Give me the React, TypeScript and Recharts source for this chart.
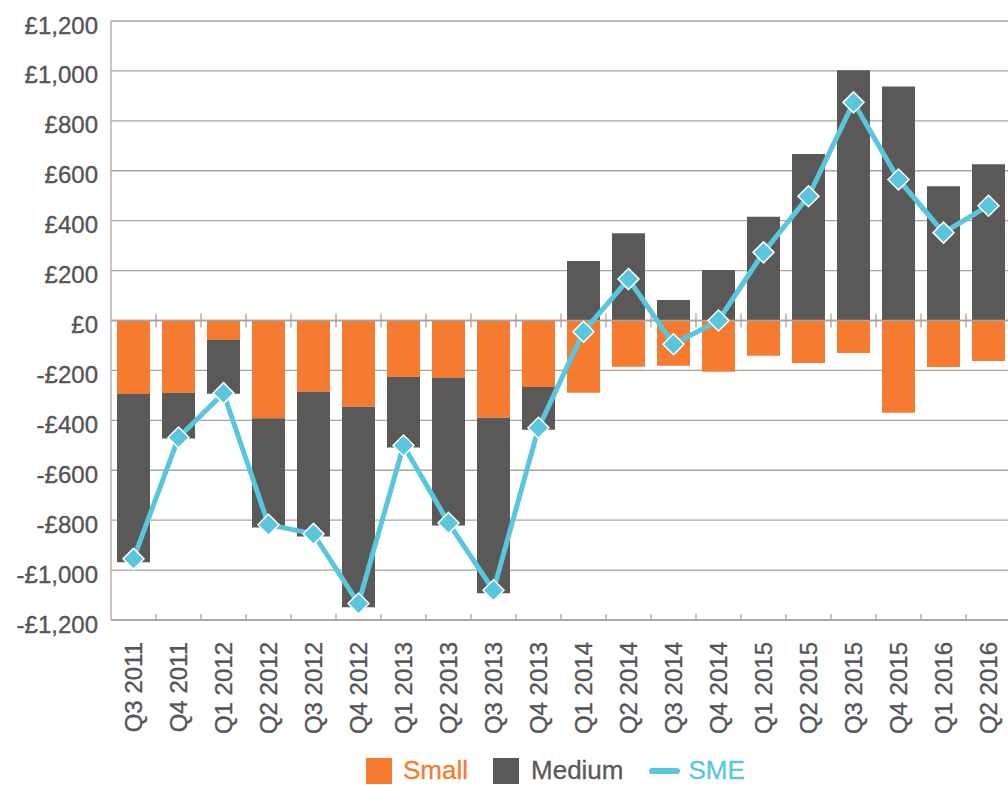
import React from "react";
import {
  ComposedChart,
  Bar,
  Line,
  XAxis,
  YAxis,
  CartesianGrid,
  ReferenceLine,
  Legend,
} from "recharts";

const quarters = [
  "Q3 2011", "Q4 2011", "Q1 2012", "Q2 2012", "Q3 2012", "Q4 2012", "Q1 2013",
  "Q2 2013", "Q3 2013", "Q4 2013", "Q1 2014", "Q2 2014", "Q3 2014", "Q4 2014",
  "Q1 2015", "Q2 2015", "Q3 2015", "Q4 2015", "Q1 2016", "Q2 2016",
];

const small = [
  -294, -289, -78, -392, -285, -346, -226, -230, -390, -266,
  -289, -185, -181, -205, -141, -170, -130, -370, -186, -162,
];

const medium = [
  -675, -184, -215, -437, -580, -803, -283, -591, -703, -172,
  238, 350, 82, 202, 416, 667, 1003, 938, 538, 626,
];

const sme = [
  -955, -469, -291, -818, -855, -1134, -501, -811, -1081, -430,
  -45, 166, -95, 0, 273, 498, 874, 565, 352, 460,
];

const yTicks = [-1200, -1000, -800, -600, -400, -200, 0, 200, 400, 600, 800, 1000, 1200];

const data = quarters.map((q, i) => ({
  quarter: q,
  small: small[i],
  medium: medium[i],
  sme: sme[i],
}));

const ORANGE = "#f47b30";
const GREY = "#5b5957";
const CYAN = "#58c6dd";
const GRID = "#aba49e";
const TEXT = "#555456";
const FONT = "'Liberation Sans', Arial, sans-serif";

const PLOT_TOP = 21;
const PLOT_BOTTOM = 620;
const Y_MIN = -1200;
const Y_MAX = 1200;
const ZERO_Y = PLOT_TOP + ((PLOT_BOTTOM - PLOT_TOP) * Y_MAX) / (Y_MAX - Y_MIN);

const formatMoney = (v: number) => {
  const s = "£" + Math.abs(v).toLocaleString("en-GB");
  return v < 0 ? "-" + s : s;
};

const XTick = (props: any) => {
  const { x, y, payload } = props;
  const half = payload && payload.offset ? payload.offset : 22.5;
  const bx = x + half;
  return (
    <g>
      <line x1={bx} x2={bx} y1={y - 6} y2={y} stroke={GRID} strokeWidth={1.3} />
      <line x1={bx} x2={bx} y1={ZERO_Y - 7} y2={ZERO_Y + 7} stroke={GRID} strokeWidth={1.3} />
      <text
        x={x}
        y={y + 22}
        transform={`rotate(-90 ${x} ${y + 22})`}
        textAnchor="end"
        dy="0.355em"
        fill={TEXT}
        stroke={TEXT}
        strokeWidth={0.35}
        fontSize={24}
        fontFamily={FONT}
      >
        {payload.value}
      </text>
    </g>
  );
};

const YTick = (props: any) => {
  const { x, y, payload } = props;
  return (
    <text
      x={x - 13}
      y={y + 4}
      textAnchor="end"
      dy="0.355em"
      fill={TEXT}
      stroke={TEXT}
      strokeWidth={0.35}
      fontSize={24}
      fontFamily={FONT}
    >
      {formatMoney(payload.value)}
    </text>
  );
};

const Diamond = (props: any) => {
  const { cx, cy } = props;
  if (cx == null || cy == null) return null;
  const r = 10.5;
  return (
    <polygon
      points={`${cx},${cy - r} ${cx + r},${cy} ${cx},${cy + r} ${cx - r},${cy}`}
      fill={CYAN}
      stroke="#ffffff"
      strokeWidth={1.5}
    />
  );
};

const label = (color: string, ml: number, mr: number): React.CSSProperties => ({
  color,
  marginLeft: ml,
  marginRight: mr,
  marginTop: 3,
  lineHeight: "20px",
  height: 20,
  WebkitTextStroke: "0.3px " + color,
});

const LegendContent = () => (
  <div
    style={{
      height: 36,
      display: "flex",
      alignItems: "flex-start",
      paddingLeft: 366,
      fontFamily: FONT,
      fontSize: 26,
    }}
  >
    <span style={{ width: 26, height: 26, marginTop: 1, background: ORANGE, display: "inline-block" }} />
    <span style={label(ORANGE, 11, 25)}>Small</span>
    <span style={{ width: 26, height: 26, marginTop: 1, background: GREY, display: "inline-block" }} />
    <span style={label(GREY, 12, 25)}>Medium</span>
    <span
      style={{
        width: 31,
        height: 6,
        marginTop: 11,
        borderRadius: 3,
        background: CYAN,
        display: "inline-block",
      }}
    />
    <span style={label(CYAN, 9, 0)}>SME</span>
  </div>
);

export default function App() {
  return (
    <div
      style={{
        position: "absolute",
        left: 0,
        top: 0,
        width: 1008,
        height: 785,
        overflow: "hidden",
        background: "#fff",
      }}
    >
      <ComposedChart
        width={1011}
        height={793}
        data={data}
        stackOffset="sign"
        margin={{ top: PLOT_TOP, right: 0, bottom: 0, left: 0 }}
      >
        <CartesianGrid vertical={false} stroke={GRID} strokeWidth={1.3} />
        <XAxis
          dataKey="quarter"
          height={137}
          interval={0}
          tickSize={0}
          tickMargin={0}
          tickLine={false}
          axisLine={{ stroke: GRID, strokeWidth: 1.3 }}
          tick={<XTick />}
        />
        <YAxis
          width={111}
          domain={[Y_MIN, Y_MAX]}
          ticks={yTicks}
          interval={0}
          tickSize={0}
          tickMargin={0}
          tickLine={false}
          axisLine={{ stroke: GRID, strokeWidth: 1.3 }}
          tick={<YTick />}
        />
        <Bar dataKey="small" stackId="a" fill={ORANGE} barSize={33} isAnimationActive={false} />
        <Bar dataKey="medium" stackId="a" fill={GREY} barSize={33} isAnimationActive={false} />
        <ReferenceLine y={0} stroke={GRID} strokeWidth={1.5} />
        <Line
          dataKey="sme"
          stroke={CYAN}
          strokeWidth={5}
          dot={<Diamond />}
          activeDot={false}
          isAnimationActive={false}
        />
        <Legend verticalAlign="bottom" content={<LegendContent />} />
      </ComposedChart>
    </div>
  );
}
